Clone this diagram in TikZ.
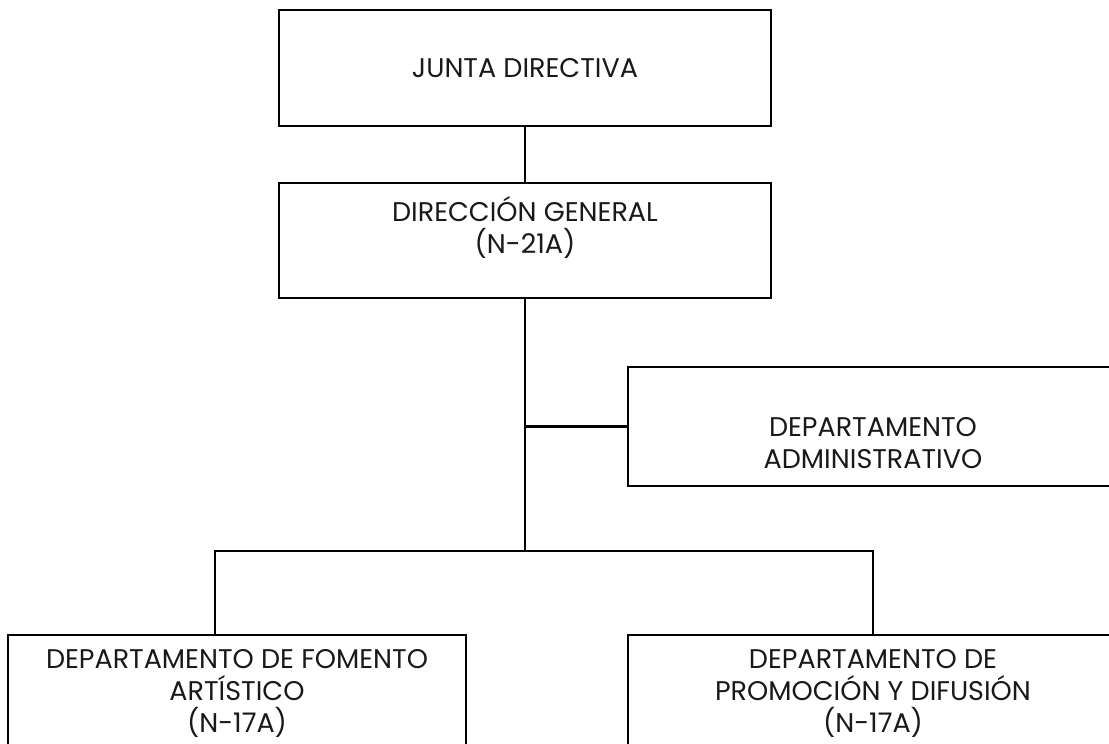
\documentclass[tikz,border=0pt]{standalone}
\usepackage{fontspec}
\setmainfont{Poppins}
\usepackage{tikz}
\usetikzlibrary{calc}

\begin{document}
\begin{tikzpicture}[x=1pt,y=-1pt,
  box/.style={draw,line width=2.2pt,inner sep=0pt},
  txt/.style={align=center,inner sep=0pt,text=black!90,
    font=\fontsize{27}{32}\selectfont},
  line/.style={line width=2.2pt}]
\useasboundingbox (0,0) rectangle (1109,744);
\clip (0,0) rectangle (1109,744);
% boxes
\node [box,txt,minimum width=492pt,minimum height=116pt] (junta) at (525,68) {JUNTA DIRECTIVA};
\node [box,minimum width=492pt,minimum height=115pt] (dir) at (525,240.5) {};
\node [txt] (dirtxt) at (525,227) {DIRECCIÓN GENERAL\\(N-21A)};
\node [box,minimum width=490pt,minimum height=119pt] (adm) at (873,426.5) {};
\node [txt] (admtxt) at (873,443) {DEPARTAMENTO\\ADMINISTRATIVO};
\node [box,anchor=north,minimum width=458pt,minimum height=200pt] (fom) at (237,634) {};
\node [txt] (fomtxt) at (237,693) {DEPARTAMENTO DE FOMENTO\\ARTÍSTICO\\(N-17A)};
\node [box,anchor=north,minimum width=490pt,minimum height=200pt] (pro) at (873,634) {};
\node [txt] (protxt) at (873,693) {DEPARTAMENTO DE\\PROMOCIÓN Y DIFUSIÓN\\(N-17A)};
% lines
\coordinate (hub) at (525,551);
\draw [line] (junta.south)--(dir.north);
\draw [line] (dir.south)--(hub);
\draw [line] (dir.south |- adm.west)--(adm.west);
\draw [line] ([xshift=-22pt]fom.north) |- (hub) -| (pro.north);
\end{tikzpicture}
\end{document}
